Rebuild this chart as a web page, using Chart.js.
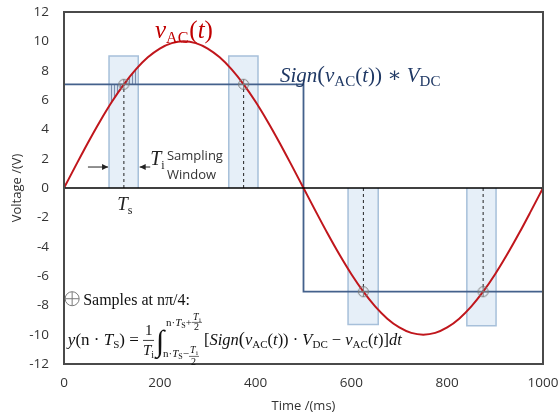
<!DOCTYPE html>
<html>
<head>
<meta charset="utf-8">
<script src="https://cdn.jsdelivr.net/npm/chart.js@4.4.1/dist/chart.umd.min.js"></script>
<style>
  html, body { margin: 0; padding: 0; background: #fff; }
  #wrap { width: 558px; height: 418px; }
</style>
</head>
<body>
<div id="wrap"><canvas id="chart"></canvas></div>
<script>
// data
const timeMs = [0, 25, 50, 75, 100, 125, 150, 175, 200, 225, 250, 275, 300, 325, 350, 375, 400, 425, 450, 475,
  500, 525, 550, 575, 600, 625, 650, 675, 700, 725, 750, 775, 800, 825, 850, 875, 900, 925, 950, 975, 1000];
const vAC = [0, 1.56, 3.09, 4.54, 5.88, 7.07, 8.09, 8.91, 9.51, 9.88, 10, 9.88, 9.51, 8.91, 8.09, 7.07, 5.88, 4.54, 3.09, 1.56,
  0, -1.56, -3.09, -4.54, -5.88, -7.07, -8.09, -8.91, -9.51, -9.88, -10, -9.88, -9.51, -8.91, -8.09, -7.07, -5.88, -4.54, -3.09, -1.56, 0];

const squareTimes = [0, 500, 500, 1000];
const squareValues = [7.07, 7.07, -7.07, -7.07];

const sampleTimes = [125, 375, 625, 875];
const sampleValues = [7.07, 7.07, -7.07, -7.07];

const windowStart = [94, 344, 593, 841];
const windowEnd = [155, 405, 656, 902];
const windowLevel = [9, 9, -9.3, -9.4];

// shaded part of the first window (between v_AC and V_DC)
const hatchTimes = [94, 100, 110, 125, 140, 155];
const hatchValues = [5.57, 5.88, 6.37, 7.07, 7.71, 8.27];

const yTicks = [-12, -10, -8, -6, -4, -2, 0, 2, 4, 6, 8, 10, 12];
const xTicks = [0, 200, 400, 600, 800, 1000];

const SERIF = '"Liberation Serif", "DejaVu Serif", serif';
const SANS = '"Open Sans", "Liberation Sans", sans-serif';
const I = s => `italic ${s}px ${SERIF}`;
const R = s => `${s}px ${SERIF}`;

// hatch pattern
function makeHatch() {
  const c = document.createElement('canvas');
  c.width = 3; c.height = 3;
  const g = c.getContext('2d');
  g.fillStyle = 'rgba(200,215,232,0.6)';
  g.fillRect(0, 0, 3, 3);
  g.fillStyle = 'rgba(95,115,150,0.75)';
  g.fillRect(0, 0, 1, 3);
  return g.createPattern(c, 'repeat');
}

// circle with cross marker
function makeMarker(r) {
  const c = document.createElement('canvas');
  const s = r * 2 + 3;
  c.width = s; c.height = s;
  const g = c.getContext('2d');
  g.strokeStyle = '#7a7a7a';
  g.lineWidth = 1;
  g.beginPath(); g.arc(s / 2, s / 2, r, 0, Math.PI * 2); g.stroke();
  g.beginPath();
  g.moveTo(s / 2 - r, s / 2); g.lineTo(s / 2 + r, s / 2);
  g.moveTo(s / 2, s / 2 - r); g.lineTo(s / 2, s / 2 + r);
  g.stroke();
  return c;
}

function run(ctx, x, y, parts) {
  parts.forEach(p => {
    ctx.font = p.f;
    ctx.fillText(p.t, x, y + (p.dy || 0));
    x += ctx.measureText(p.t).width + (p.gap || 0);
  });
  return x;
}

function arrow(ctx, x1, y, x2) {
  const d = x2 > x1 ? 1 : -1;
  ctx.beginPath();
  ctx.moveTo(x1, y); ctx.lineTo(x2, y);
  ctx.stroke();
  ctx.beginPath();
  ctx.moveTo(x2, y);
  ctx.lineTo(x2 - d * 6, y - 3);
  ctx.lineTo(x2 - d * 6, y + 3);
  ctx.closePath();
  ctx.fill();
}

const annotations = {
  id: 'annotations',
  afterDatasetsDraw(chart) {
    const ctx = chart.ctx;
    const xs = chart.scales.x, ys = chart.scales.y;
    const px = v => xs.getPixelForValue(v);
    const py = v => ys.getPixelForValue(v);
    const a = chart.chartArea;
    ctx.save();

    // zero line and frame
    ctx.strokeStyle = '#000';
    ctx.lineWidth = 1.5;
    ctx.beginPath();
    ctx.moveTo(a.left, py(0)); ctx.lineTo(a.right, py(0));
    ctx.stroke();
    ctx.strokeStyle = '#4a4a4a';
    ctx.lineWidth = 2;
    ctx.strokeRect(a.left, a.top, a.right - a.left, a.bottom - a.top);

    ctx.textBaseline = 'alphabetic';
    ctx.textAlign = 'left';

    // v_AC(t)
    ctx.fillStyle = '#c00000';
    run(ctx, px(190), py(10.2), [
      { t: 'v', f: I(25) }, { t: 'AC', f: R(16), dy: 5, gap: 1 },
      { t: '(', f: R(25) }, { t: 't', f: I(25) }, { t: ')', f: R(25) }
    ]);

    // Sign(v_AC(t)) * V_DC
    ctx.fillStyle = '#1f3864';
    run(ctx, px(451), py(7.25), [
      { t: 'Sign', f: I(21) }, { t: '(', f: R(23) }, { t: 'v', f: I(21) },
      { t: 'AC', f: R(15), dy: 4 }, { t: '(', f: R(21) }, { t: 't', f: I(21) },
      { t: '))', f: R(21) }, { t: ' \u2217 ', f: R(21) }, { t: 'V', f: I(21) },
      { t: 'DC', f: R(15), dy: 4 }
    ]);

    // sampling window notes
    ctx.fillStyle = '#222';
    ctx.strokeStyle = '#222';
    ctx.lineWidth = 1;
    arrow(ctx, px(50), py(1.43), px(92));
    arrow(ctx, px(180), py(1.43), px(158));
    run(ctx, px(180), py(1.55), [{ t: 'T', f: I(20) }, { t: 'i', f: R(12), dy: 4 }]);
    ctx.fillStyle = '#333';
    ctx.font = `13px ${SANS}`;
    ctx.fillText('Sampling', px(215), py(1.9));
    ctx.fillText('Window', px(215), py(0.6));
    ctx.fillStyle = '#222';
    run(ctx, px(111), py(-1.5), [{ t: 'T', f: I(19) }, { t: 's', f: R(12), dy: 4 }]);

    // legend for samples
    ctx.strokeStyle = '#7a7a7a';
    ctx.lineWidth = 1;
    const lx = px(17), ly = py(-7.55), r = 7;
    ctx.beginPath(); ctx.arc(lx, ly, r, 0, Math.PI * 2); ctx.stroke();
    ctx.beginPath();
    ctx.moveTo(lx - r, ly); ctx.lineTo(lx + r, ly);
    ctx.moveTo(lx, ly - r); ctx.lineTo(lx, ly + r);
    ctx.stroke();
    ctx.fillStyle = '#111';
    ctx.font = R(16);
    ctx.fillText('Samples at n\u03c0/4:', px(40), py(-7.95));

    // formula
    const by = py(-10.7);
    let x = run(ctx, px(8), by, [
      { t: 'y', f: I(17) }, { t: '(n \u00b7 ', f: R(17) }, { t: 'T', f: I(17) },
      { t: 'S', f: R(11), dy: 3 }, { t: ') = ', f: R(17) }
    ]);
    ctx.font = R(15);
    ctx.fillText('1', x + 2, by - 10);
    ctx.fillRect(x, by - 5, 11, 0.8);
    run(ctx, x, by + 10, [{ t: 'T', f: I(15) }, { t: 'i', f: R(10), dy: 3 }]);
    x += 13;
    ctx.font = R(30);
    ctx.fillText('\u222b', x, by + 6);
    x += 10;
    let ux = run(ctx, x, by - 19, [
      { t: 'n\u00b7', f: R(11) }, { t: 'T', f: I(11) }, { t: 'S', f: R(8), dy: 2 }, { t: '+', f: R(11) }
    ]);
    ctx.font = I(10); ctx.fillText('T', ux + 1, by - 25);
    ctx.font = R(7); ctx.fillText('i', ux + 7, by - 23);
    ctx.fillRect(ux, by - 23, 10, 0.6);
    ctx.font = R(10); ctx.fillText('2', ux + 2, by - 15);
    let lx2 = run(ctx, x - 3, by + 12, [
      { t: 'n\u00b7', f: R(11) }, { t: 'T', f: I(11) }, { t: 'S', f: R(8), dy: 2 }, { t: '\u2212', f: R(11) }
    ]);
    ctx.font = I(10); ctx.fillText('T', lx2 + 1, by + 8);
    ctx.font = R(7); ctx.fillText('i', lx2 + 7, by + 10);
    ctx.fillRect(lx2, by + 11, 10, 0.6);
    ctx.font = R(10); ctx.fillText('2', lx2 + 2, by + 20);
    x = Math.max(ux, lx2) + 12;
    run(ctx, x, by, [
      { t: '[', f: R(16.5) }, { t: 'Sign', f: I(16.5) }, { t: '(', f: R(18.5) }, { t: 'v', f: I(16.5) },
      { t: 'AC', f: R(11), dy: 3 }, { t: '(', f: R(16.5) }, { t: 't', f: I(16.5) }, { t: '))', f: R(16.5) },
      { t: ' \u00b7 ', f: R(16.5) }, { t: 'V', f: I(16.5) }, { t: 'DC', f: R(11), dy: 3 },
      { t: ' \u2212 ', f: R(16.5) }, { t: 'v', f: I(16.5) }, { t: 'AC', f: R(11), dy: 3 },
      { t: '(', f: R(16.5) }, { t: 't', f: I(16.5) }, { t: ')]', f: R(16.5) }, { t: 'dt', f: I(16.5) }
    ]);
    ctx.restore();
  }
};

const pts = (xs, ys) => xs.map((x, i) => ({ x: x, y: ys[i] }));

const datasets = [];

// sampling windows
windowStart.forEach((s, i) => {
  datasets.push({
    data: [{ x: s, y: 0 }, { x: s, y: windowLevel[i] }, { x: windowEnd[i], y: windowLevel[i] }, { x: windowEnd[i], y: 0 }],
    borderColor: '#a7c0da',
    backgroundColor: 'rgba(222,233,245,0.75)',
    borderWidth: 1.5,
    fill: 'origin',
    pointRadius: 0,
    tension: 0,
    order: 10
  });
});

// shaded area in first window
datasets.push({
  data: pts(hatchTimes, hatchValues),
  borderWidth: 0,
  backgroundColor: makeHatch(),
  fill: { value: 7.07 },
  pointRadius: 0,
  tension: 0,
  order: 9
});

// dashed lines from axis to samples
const dashData = [];
sampleTimes.forEach((t, i) => {
  dashData.push({ x: t, y: 0 }, { x: t, y: sampleValues[i] }, { x: t, y: null });
});
datasets.push({
  data: dashData,
  borderColor: '#222',
  borderWidth: 1,
  borderDash: [3, 3],
  spanGaps: false,
  pointRadius: 0,
  fill: false,
  order: 8
});

// Sign(vAC) * VDC
datasets.push({
  data: pts(squareTimes, squareValues),
  borderColor: '#44618c',
  borderWidth: 1.8,
  pointRadius: 0,
  fill: false,
  tension: 0,
  order: 2
});

// vAC(t)
datasets.push({
  data: pts(timeMs, vAC),
  borderColor: '#c0161c',
  borderWidth: 2,
  pointRadius: 0,
  fill: false,
  cubicInterpolationMode: 'monotone',
  order: 1
});

// samples
datasets.push({
  data: pts(sampleTimes, sampleValues),
  showLine: false,
  pointStyle: makeMarker(5),
  pointRadius: 6,
  order: 0
});

new Chart(document.getElementById('chart'), {
  type: 'line',
  data: { datasets: datasets },
  options: {
    responsive: true,
    maintainAspectRatio: false,
    animation: false,
    events: [],
    layout: { padding: { left: 0, top: 12, right: 15, bottom: 0 } },
    plugins: { legend: { display: false }, tooltip: { enabled: false } },
    scales: {
      x: {
        type: 'linear',
        min: 0, max: 1000,
        afterBuildTicks: s => { s.ticks = xTicks.map(v => ({ value: v })); },
        afterFit: s => { s.height = 54; s.paddingLeft = 0; s.paddingRight = 0; s.paddingTop = 0; s.paddingBottom = 0; },
        grid: { display: false, drawTicks: false },
        border: { display: false },
        ticks: { color: '#333', font: { family: SANS, size: 13.5 }, padding: 11, maxRotation: 0, callback: v => String(v) },
        title: { display: true, text: 'Time /(ms)', color: '#333', font: { family: SANS, size: 13 }, padding: { top: 0 } }
      },
      y: {
        type: 'linear',
        min: -12, max: 12,
        afterBuildTicks: s => { s.ticks = yTicks.map(v => ({ value: v })); },
        afterFit: s => { s.width = 64; s.paddingLeft = 0; s.paddingRight = 0; s.paddingTop = 0; s.paddingBottom = 0; },
        grid: { display: false, drawTicks: false },
        border: { display: false },
        ticks: { color: '#333', font: { family: SANS, size: 13.5 }, padding: 15 },
        title: { display: true, text: 'Voltage /(V)', color: '#333', font: { family: SANS, size: 13 }, padding: { top: 9, bottom: 0 } }
      }
    }
  },
  plugins: [annotations]
});
</script>
</body>
</html>
